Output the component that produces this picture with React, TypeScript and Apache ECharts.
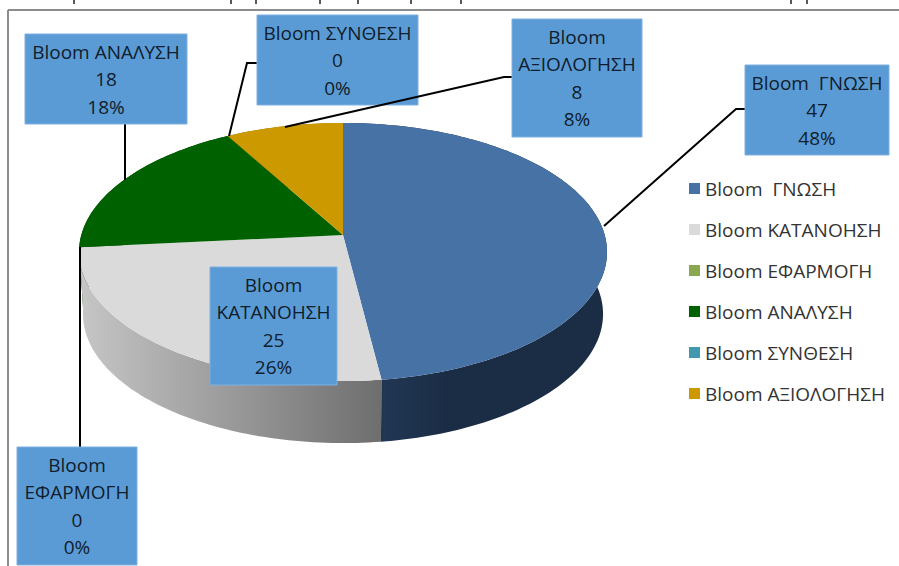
import React, { useEffect, useRef } from "react";
import * as echarts from "echarts";

const categories = ["Bloom  ΓΝΩΣΗ", "Bloom ΚΑΤΑΝΟΗΣΗ", "Bloom ΕΦΑΡΜΟΓΗ", "Bloom ΑΝΑΛΥΣΗ", "Bloom ΣΥΝΘΕΣΗ", "Bloom ΑΞΙΟΛΟΓΗΣΗ"];
const values = [47, 25, 0, 18, 0, 8];

const colors = ["#4672a6", "#dadada", "#8aa84f", "#006100", "#4198af", "#cc9900"];
const FONT = "'Open Sans', 'Noto Sans', sans-serif";

// Perspective projection of the disc's rim, in pixels
const CX = 343, CY = 235, A = 126.8, B = 261.7, K = -0.1318;
const DEPTH = 62, SHRINK = 0.985;

const total = values.reduce((a, b) => a + b, 0);
const starts = values.map((_, i) => values.slice(0, i).reduce((a, b) => a + b, 0) / total);

const rim = (share: number): number[] => {
  const t = share * Math.PI * 2;
  const u = Math.sin(t), v = -Math.cos(t), d = 1 + K * v;
  return [CX + (B * u) / d, CY + (A * v) / d];
};
const lower = (p: number[]): number[] => [CX + (p[0] - CX) * SHRINK, p[1] + DEPTH];
const arc = (from: number, span: number): number[][] => {
  const n = Math.max(2, Math.ceil(span * 300));
  const out: number[][] = [];
  for (let i = 0; i <= n; i++) out.push(rim(from + (span * i) / n));
  return out;
};

const wallFills = [
  new echarts.graphic.LinearGradient(0, 0, 1, 0, [
    { offset: 0, color: "#203653" },
    { offset: 0.16, color: "#203653" },
    { offset: 0.4, color: "#1b2d45" },
    { offset: 1, color: "#1b2d45" },
  ]),
  new echarts.graphic.LinearGradient(0, 0, 1, 0, [
    { offset: 0, color: "#c6c6c6" },
    { offset: 1, color: "#6e6e6e" },
  ]),
  "#6d8a3c",
  "#004800",
  "#2f7488",
  "#9a7300",
];

const boxes = [
  { x: 745, y: 65, w: 144, h: 90, wrap: false, leader: [[745, 109], [736, 109], [604, 226]] },
  { x: 210, y: 267, w: 127, h: 118, wrap: true, leader: null },
  { x: 17, y: 447, w: 120, h: 118, wrap: true, leader: [[80, 447], [80, 247]] },
  { x: 25, y: 34, w: 162, h: 90, wrap: false, leader: [[125, 124], [125, 180]] },
  { x: 257, y: 15, w: 161, h: 90, wrap: false, leader: [[257, 63], [247, 63], [229, 136]] },
  { x: 512, y: 19, w: 130, h: 118, wrap: true, leader: [[512, 77], [504, 77], [285, 127]] },
];

const titleStubs = [74, 231, 256, 320, 358, 411, 461, 791, 807];

export default function App() {
  const ref = useRef<HTMLDivElement>(null);
  useEffect(() => {
    const chart = echarts.init(ref.current!, undefined, { renderer: "svg" });

    const wallSeries = {
      type: "custom",
      name: "walls",
      coordinateSystem: "none",
      silent: true,
      z: 1,
      data: values.map((v, i) => [v, i]).reverse(),
      renderItem: (_: any, api: any) => {
        const i = api.value(1);
        const span = api.value(0) / total;
        if (!span) return { type: "group", children: [] };
        const top = arc(starts[i], span);
        return {
          type: "polygon",
          shape: { points: [...top, ...top.map(lower).reverse()] },
          style: { fill: wallFills[i] },
        };
      },
    };

    const sliceSeries = categories.map((name, i) => ({
      type: "custom",
      name,
      coordinateSystem: "none",
      silent: true,
      z: 2,
      itemStyle: { color: colors[i] },
      data: [[values[i]]],
      renderItem: (_: any, api: any) => {
        const span = api.value(0) / total;
        if (!span) return { type: "group", children: [] };
        return {
          type: "polygon",
          shape: { points: [[CX, CY], ...arc(starts[i], span)] },
          style: { fill: colors[i] },
        };
      },
    }));

    const labelSeries = {
      type: "custom",
      name: "labels",
      coordinateSystem: "none",
      silent: true,
      z: 3,
      data: values.map((v) => [v]),
      renderItem: (p: any, api: any) => {
        const i = p.dataIndex;
        const b = boxes[i];
        const v = api.value(0);
        const title = b.wrap ? categories[i].replace(/\s+/, "\n") : categories[i];
        const children: any[] = [];
        if (b.leader) {
          children.push({
            type: "polyline",
            shape: { points: b.leader },
            style: { stroke: "#000", lineWidth: 2, fill: "none" },
          });
        }
        children.push({
          type: "rect",
          shape: { x: b.x, y: b.y, width: b.w, height: b.h },
          style: { fill: "#5b9bd5", stroke: "#7fb0de", lineWidth: 1 },
        });
        children.push({
          type: "text",
          x: b.x + b.w / 2,
          y: b.y + b.h / 2,
          style: {
            text: `${title}\n${v}\n${Math.round((v / total) * 100)}%`,
            align: "center",
            verticalAlign: "middle",
            fontFamily: FONT,
            fontSize: 19,
            lineHeight: 27.5,
            fill: "#0f1d2c",
          },
        });
        return { type: "group", children };
      },
    };

    chart.setOption({
      animation: false,
      backgroundColor: "#fff",
      legend: {
        data: categories,
        orient: "vertical",
        left: 689,
        top: 179,
        padding: 0,
        itemWidth: 11,
        itemHeight: 11,
        itemGap: 22,
        icon: "rect",
        selectedMode: false,
        textStyle: { fontFamily: FONT, fontSize: 19, color: "#333", lineHeight: 18 },
      },
      graphic: [
        { type: "line", shape: { x1: 8, y1: 10, x2: 899, y2: 10 }, style: { stroke: "#8c8c8c", lineWidth: 2 } },
        { type: "line", shape: { x1: 8, y1: 10, x2: 8, y2: 566 }, style: { stroke: "#8c8c8c", lineWidth: 2 } },
        ...titleStubs.map((x) => ({
          type: "line",
          shape: { x1: x, y1: 0, x2: x, y2: 4 },
          style: { stroke: "#222", lineWidth: 1.5 },
        })),
      ],
      series: [wallSeries, ...sliceSeries, labelSeries],
    });
    return () => chart.dispose();
  }, []);
  return <div ref={ref} style={{ position: "absolute", left: 0, top: 0, width: 899, height: 566 }} />;
}
